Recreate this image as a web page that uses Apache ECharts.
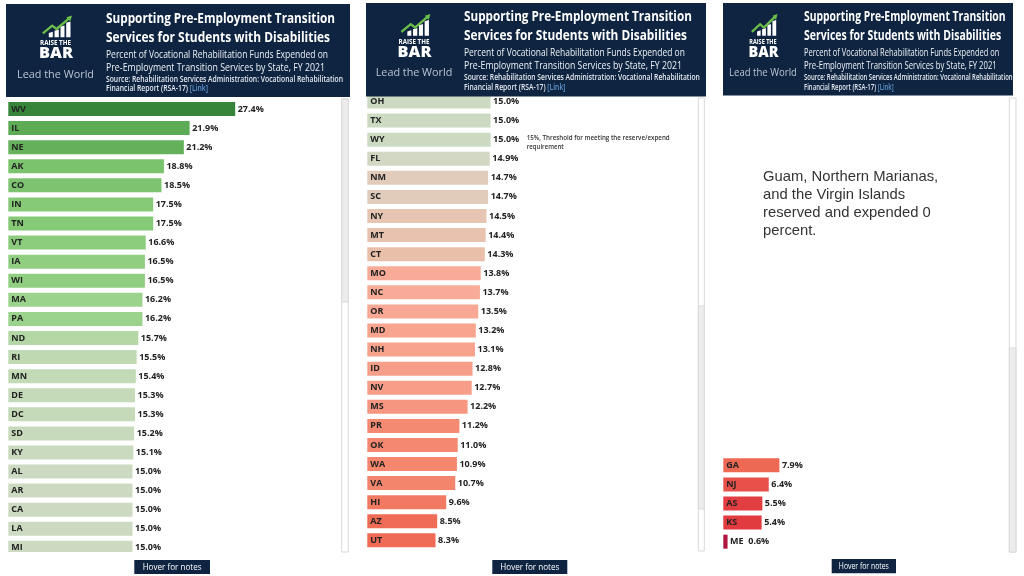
<!DOCTYPE html>
<html><head><meta charset="utf-8">
<script src="https://cdn.jsdelivr.net/npm/echarts@6/dist/echarts.min.js"></script>
<style>html,body{margin:0;padding:0;background:#fff}#c{width:1024px;height:576px}</style>
</head><body><div id="c"></div>
<script>
// ---------- DATA ----------
const panel1States = ['WV','IL','NE','AK','CO','IN','TN','VT','IA','WI','MA','PA','ND','RI','MN','DE','DC','SD','KY','AL','AR','CA','LA','MI'];
const panel1Values = [27.4,21.9,21.2,18.8,18.5,17.5,17.5,16.6,16.5,16.5,16.2,16.2,15.7,15.5,15.4,15.3,15.3,15.2,15.1,15.0,15.0,15.0,15.0,15.0];
const panel2States = ['OH','TX','WY','FL','NM','SC','NY','MT','CT','MO','NC','OR','MD','NH','ID','NV','MS','PR','OK','WA','VA','HI','AZ','UT'];
const panel2Values = [15.0,15.0,15.0,14.9,14.7,14.7,14.5,14.4,14.3,13.8,13.7,13.5,13.2,13.1,12.8,12.7,12.2,11.2,11.0,10.9,10.7,9.6,8.5,8.3];
const panel3States = ['GA','NJ','AS','KS','ME'];
const panel3Values = [7.9,6.4,5.5,5.4,0.6];
const thresholdValue = 15;

// ---------- STYLE ----------
const colorStops = [[0.6,'#b0153f'],[5.4,'#e13b40'],[6.4,'#e8504a'],[7.9,'#ee6954'],[8.5,'#ef6c56'],[9.6,'#f27a62'],[11.0,'#f58870'],[12.2,'#f69580'],[13.1,'#f8a38e'],[13.8,'#f8ac98'],[14.3,'#eabfaa'],[14.7,'#e1ccbc'],[14.9,'#d3d8c5'],[15.0,'#cddac2'],[15.3,'#c5dab9'],[15.5,'#bfd9b2'],[15.7,'#b4d7a6'],[16.2,'#9bd38c'],[16.6,'#8ccd7d'],[17.5,'#86c977'],[18.8,'#7cc36e'],[21.2,'#64b05b'],[21.9,'#5eab56'],[27.4,'#37853a']];
function hex(c){return [1,3,5].map(i=>parseInt(c.substr(i,2),16));}
function colorFor(v){
  if(v<=colorStops[0][0]) return colorStops[0][1];
  for(let i=1;i<colorStops.length;i++){
    const [v1,c1]=colorStops[i];
    if(v<=v1){
      const [v0,c0]=colorStops[i-1];
      const t=(v-v0)/(v1-v0), a=hex(c0), b=hex(c1);
      return 'rgb('+a.map((x,k)=>Math.round(x+(b[k]-x)*t)).join(',')+')';
    }
  }
  return colorStops[colorStops.length-1][1];
}
const FONT='"Open Sans", "Noto Sans", sans-serif';
const NAVY='#0e2441';
const mctx=document.createElement('canvas').getContext('2d');
function tw(text,size,weight,family){mctx.font=weight+' '+size+'px '+family;return mctx.measureText(text).width;}

function fitText(text,x,y,size,weight,fill,targetW,opts){
  opts=opts||{};
  const fam=opts.family||FONT;
  const w=tw(text.replace(/\{l\|([^}]*)\}/g,'$1'),size,weight,fam);
  const s=targetW? targetW/w : 1;
  const style={text:text,x:0,y:0,fontSize:size,fontWeight:weight,fontFamily:fam,fill:fill,
    align:opts.align||'left',verticalAlign:'middle',textAlign:opts.align||'left',textVerticalAlign:'middle'};
  if(opts.rich) style.rich=opts.rich;
  return {type:'text',x:x,y:y,scaleX:s,scaleY:opts.sy||1,z:101,silent:true,style:style};
}

const headerLines=[
  {t:'Supporting Pre-Employment Transition',y:19,size:14.5,weight:'bold',w:229,fill:'#ffffff'},
  {t:'Services for Students with Disabilities',y:38,size:14.5,weight:'bold',w:224,fill:'#ffffff'},
  {t:'Percent of Vocational Rehabilitation Funds Expended on',y:54.5,size:11,weight:'normal',w:222,fill:'#eef2f6'},
  {t:'Pre-Employment Transition Services by State, FY 2021',y:67.5,size:11,weight:'normal',w:219,fill:'#eef2f6'},
  {t:'Source: Rehabilitation Services Administration: Vocational Rehabilitation',y:79.5,size:8.5,weight:'600',w:237,fill:'#e6eaf0'},
  {t:'Financial Report (RSA-17) {l|[Link]}',y:89,size:8.5,weight:'600',w:102,fill:'#e6eaf0',link:true}
];

function header(rx,ry,rw,rh,tx,cx,k,dy){
  const els=[{type:'rect',z:100,silent:true,shape:{x:rx,y:ry,width:rw,height:rh},style:{fill:NAVY}}];
  headerLines.forEach(L=>{
    const rich=L.link?{l:{fill:'#5f97d2',fontSize:L.size,fontWeight:L.weight,fontFamily:FONT}}:null;
    els.push(fitText(L.t,tx,L.y+dy,L.size,L.weight,L.fill,L.w*k,{rich:rich,sy:k<1?0.95:1}));
  });
  // logo icon
  const P=(dx,y)=>[cx+dx*k,y+dy];
  const bars=[[-6.7,-2.7,31.7],[-1,3.3,29.5],[5,9,25.5],[10.7,15,21.5]];
  bars.forEach(b=>{
    els.push({type:'polygon',z:101,silent:true,shape:{points:[P(b[0],37.3),P(b[0],b[2]+1.2),P(b[1],b[2]),P(b[1],37.3)]},style:{fill:'#ffffff'}});
  });
  els.push({type:'polyline',z:102,silent:true,shape:{points:[P(-12.7,33.3),P(-3.3,25.7),P(1,29),P(7.7,23.3),P(13.2,18.6)]},style:{stroke:'#6cc04a',lineWidth:2.3,fill:null}});
  els.push({type:'polygon',z:102,silent:true,shape:{points:[P(16.5,15.5),P(10.8,17.3),P(14.8,21.2)]},style:{fill:'#6cc04a'}});
  els.push(fitText('RAISE THE',cx,43+dy,7,'bold','#ffffff',31*k,{align:'center'}));
  els.push(fitText('BAR',cx+0.5,54+dy,15,'800','#ffffff',34*k,{align:'center'}));
  els.push(fitText('Lead the World',cx,74.5+dy,11,'normal','#b9c5d4',77*k,{align:'center'}));
  return els;
}

function scrollbar(x,w,y0,y1,t0,t1){
  return [
    {type:'rect',z:20,silent:true,shape:{x:x,y:y0,width:w,height:y1-y0},style:{fill:'#ffffff',stroke:'#d9d9d9',lineWidth:1}},
    {type:'rect',z:21,silent:true,shape:{x:x,y:t0,width:w,height:t1-t0},style:{fill:'#ececec',stroke:'#d9d9d9',lineWidth:1}}
  ];
}
function button(x,y,w,h,tw_){
  return [
    {type:'rect',z:100,silent:true,shape:{x:x,y:y,width:w,height:h},style:{fill:NAVY}},
    fitText('Hover for notes',x+w/2,y+h/2+0.3,9,'normal','#ffffff',tw_,{align:'center'})
  ];
}

const graphics=[]
  .concat(scrollbar(341.7,6.6,99,552,99,302))
  .concat(scrollbar(698.3,6,98,551,306,509))
  .concat(scrollbar(1009.3,6.7,98,552,348,552))
  .concat([{type:'rect',z:50,silent:true,shape:{x:0,y:552,width:340,height:7},style:{fill:'#ffffff'}}])
  .concat(header(6,4,344,93,106,55.5,1,0))
  .concat(header(366,3,340,93.5,464,414,0.995,-1.5))
  .concat(header(723,3,290,92.5,804,763,0.88,-1.5))
  .concat(button(134.3,560,75.7,14,59))
  .concat(button(492.3,560,75,14,59))
  .concat(button(831.7,559,64.3,14.3,50))
  .concat([
    fitText(thresholdValue+'%, Threshold for meeting the reserve/expend',526.7,137.7,7,'600','#333333',143),
    fitText('requirement',526.7,147.3,7,'600','#333333',37)
  ]);
['Guam, Northern Marianas,','and the Virgin Islands','reserved and expended 0','percent.'].forEach((t,i)=>{
  graphics.push({type:'text',x:763,y:177+i*18,z:30,silent:true,style:{text:t,x:0,y:0,fontSize:14.8,fontFamily:'"Liberation Sans", Arial, sans-serif',fill:'#333333',align:'left',verticalAlign:'middle',textAlign:'left',textVerticalAlign:'middle'}});
});

const panels=[[panel1States,panel1Values],[panel2States,panel2Values],[panel3States,panel3Values]];
const option={
  animation:false,
  backgroundColor:'#ffffff',
  grid:[
    {left:8.3,top:99.5,width:331.2,height:457.9},
    {left:367.3,top:92,width:328.8,height:457.9},
    {left:723.3,top:455.8,width:284,height:95.4}
  ],
  xAxis:panels.map((p,i)=>({type:'value',gridIndex:i,min:0,max:40,show:false})),
  yAxis:panels.map((p,i)=>({type:'category',gridIndex:i,data:p[0],inverse:true,z:5,
    axisLine:{show:false},axisTick:{show:false},splitLine:{show:false},
    axisLabel:{inside:true,margin:3,fontFamily:FONT,fontWeight:'bold',fontSize:9,color:'#222222',
      formatter:(v,idx)=>p[1][idx]<2?'':v}})),
  series:panels.map((p,i)=>({
    type:'bar',xAxisIndex:i,yAxisIndex:i,barWidth:14,
    data:p[1].map(v=>({value:v,itemStyle:{color:colorFor(v)}})),
    label:{show:true,position:'right',distance:2.5,fontFamily:FONT,fontWeight:'bold',fontSize:9,color:'#222222',
      formatter:q=>(q.value<2?p[0][q.dataIndex]+'  ':'')+q.value.toFixed(1)+'%'}
  })),
  graphic:{elements:graphics}
};
echarts.init(document.getElementById('c')).setOption(option);
</script></body></html>
